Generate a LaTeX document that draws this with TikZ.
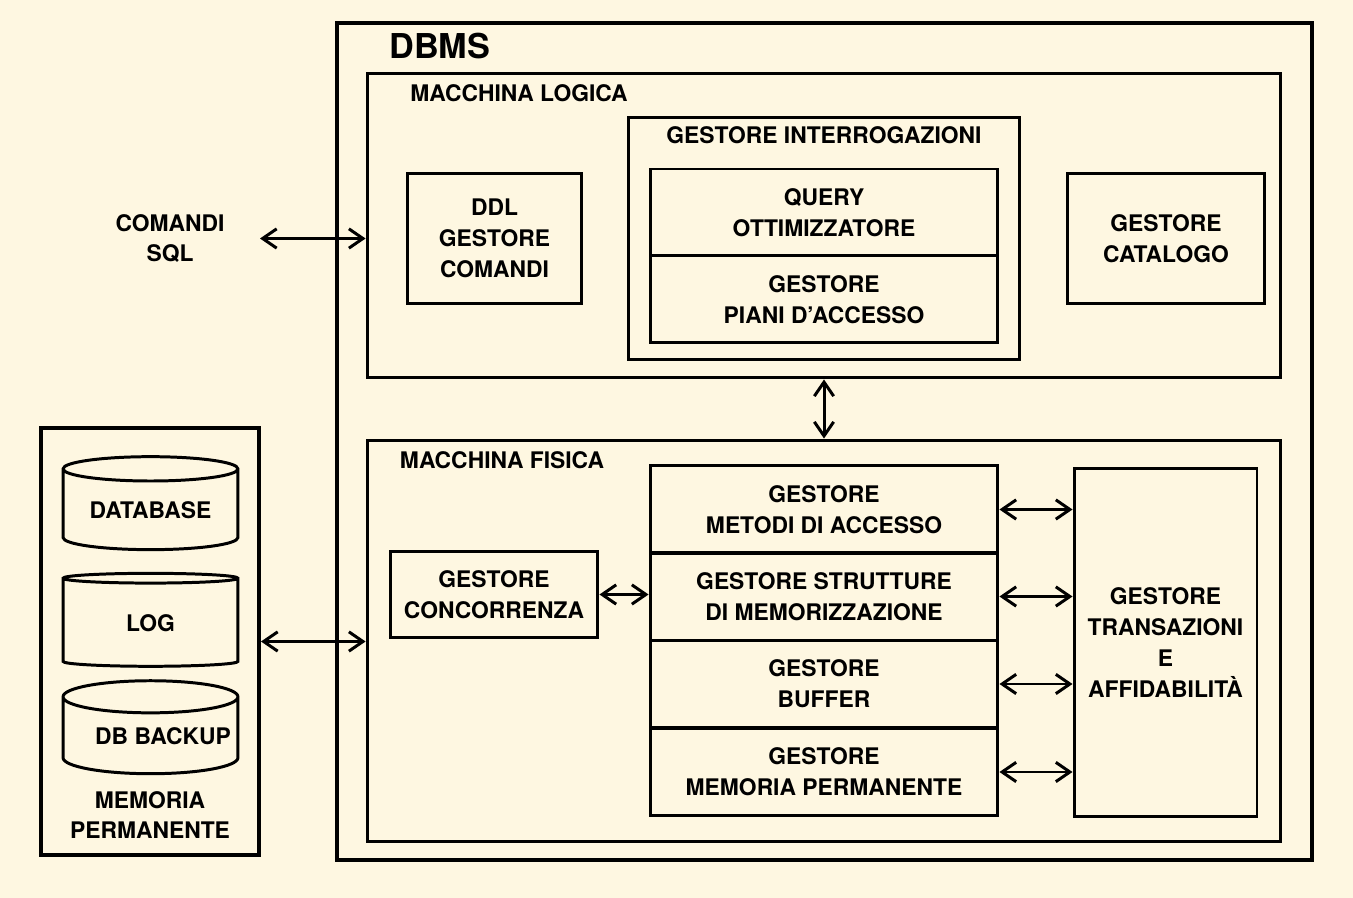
\documentclass[tikz,border=0pt]{standalone}
\usepackage{fontspec}
\setmainfont{TeX Gyre Heros}
\usetikzlibrary{positioning}
\usetikzlibrary{calc}
\usetikzlibrary{arrows.meta}
\usetikzlibrary{shapes.geometric}
\definecolor{cream}{RGB}{254,247,225}
\newcommand{\boxfont}{\fontsize{13}{17.6}\selectfont\bfseries}

\tikzset{
    box/.style={draw, line width=1.7pt, align=center, font=\boxfont, inner sep=0pt},
    outerbox/.style={draw, line width=2.3pt, inner sep=0pt},
    lbl/.style={font=\boxfont, align=center, inner sep=0pt},
    db/.style={draw, line width=1.7pt, cylinder, shape border rotate=90, aspect=0.2,
        minimum width=3.5cm, minimum height=1.86cm, font=\boxfont, inner sep=0pt},
    link/.style={line width=1.7pt, {Straight Barb[length=8pt,width=11pt]}-{Straight Barb[length=8pt,width=11pt]}},
}

\begin{document}
\begin{tikzpicture}[x=0.02cm, y=-0.02cm]
    \fill[cream] (0,0) rectangle (1353,898);
    \useasboundingbox (0,0) rectangle (1353,898);

    % dbms
    \node[outerbox, minimum width=19.5cm, minimum height=16.74cm] (dbms) at (824.5,441.5) {};
    \node[lbl, anchor=west, font=\fontsize{19.5}{22}\selectfont\bfseries] (dbmstitle) at (389,46) {DBMS};

    % macchina logica
    \node[box, minimum width=18.28cm, minimum height=6.1cm] (logica) at (824,225.5) {};
    \node[lbl] (logicatitle) at (519,93) {MACCHINA LOGICA};

    \node[box, minimum width=3.5cm, minimum height=2.62cm] (ddl) at (494.5,238.5) {DDL\\GESTORE\\COMANDI};
    \node[box, minimum width=7.84cm, minimum height=4.86cm] (interr) at (824,238.5) {};
    \node[lbl] (interrtitle) at (824,135) {GESTORE INTERROGAZIONI};
    \node[box, minimum width=6.96cm, minimum height=1.74cm] (query) at (824,212.5) {QUERY\\OTTIMIZZATORE};
    \node[box, minimum width=6.96cm, minimum height=1.74cm] (piani) at (824,299.5) {GESTORE\\PIANI D’ACCESSO};
    \node[box, minimum width=3.96cm, minimum height=2.62cm] (catalogo) at (1166,238.5) {GESTORE\\CATALOGO};

    % macchina fisica
    \node[box, minimum width=18.28cm, minimum height=8.04cm] (fisica) at (824,641) {};
    \node[lbl] (fisicatitle) at (502,460) {MACCHINA FISICA};

    \node[box, minimum width=4.16cm, minimum height=1.74cm] (concorr) at (494,594.5) {GESTORE\\CONCORRENZA};
    \node[box, minimum width=6.96cm, minimum height=1.75cm] (metodi) at (824,509.5) {GESTORE\\METODI DI ACCESSO};
    \node[box, minimum width=6.96cm, minimum height=1.75cm] (strutture) at (824,596.5) {GESTORE STRUTTURE\\DI MEMORIZZAZIONE};
    \node[box, minimum width=6.96cm, minimum height=1.75cm] (buffer) at (824,684) {GESTORE\\BUFFER};
    \node[box, minimum width=6.96cm, minimum height=1.75cm] (permanente) at (824,772) {GESTORE\\MEMORIA PERMANENTE};
    \node[box, minimum width=3.66cm, minimum height=6.98cm] (trans) at (1165.5,642.5) {GESTORE\\TRANSAZIONI\\E\\AFFIDABILITÀ};

    % memoria permanente
    \node[outerbox, minimum width=4.36cm, minimum height=8.54cm] (mem) at (150,641.5) {};
    \node[db] (database) at (150.5,510) {DATABASE};
    \node[db] (log) at (150.5,623) {LOG};
    \node[db] (backup) at (150.5,736) {\hspace*{0.5cm}DB BACKUP};
    \node[lbl] (memtitle) at (150,815) {MEMORIA\\PERMANENTE};

    % comandi
    \node[lbl] (sql) at (170,238.5) {COMANDI\\SQL};
    \coordinate (sqlend) at (260,238.5);

    \draw[link] (sqlend) -- (sqlend -| logica.west);
    \draw[link] (logica.south) -- (fisica.north);
    \draw[link] (mem.east) -- (mem.east -| fisica.west);
    \draw[link] (concorr.east) -- (concorr.east -| strutture.west);
    \foreach \s in {metodi, strutture, buffer, permanente}
        \draw[link] (\s.east) -- (\s.east -| trans.west);
\end{tikzpicture}
\end{document}
